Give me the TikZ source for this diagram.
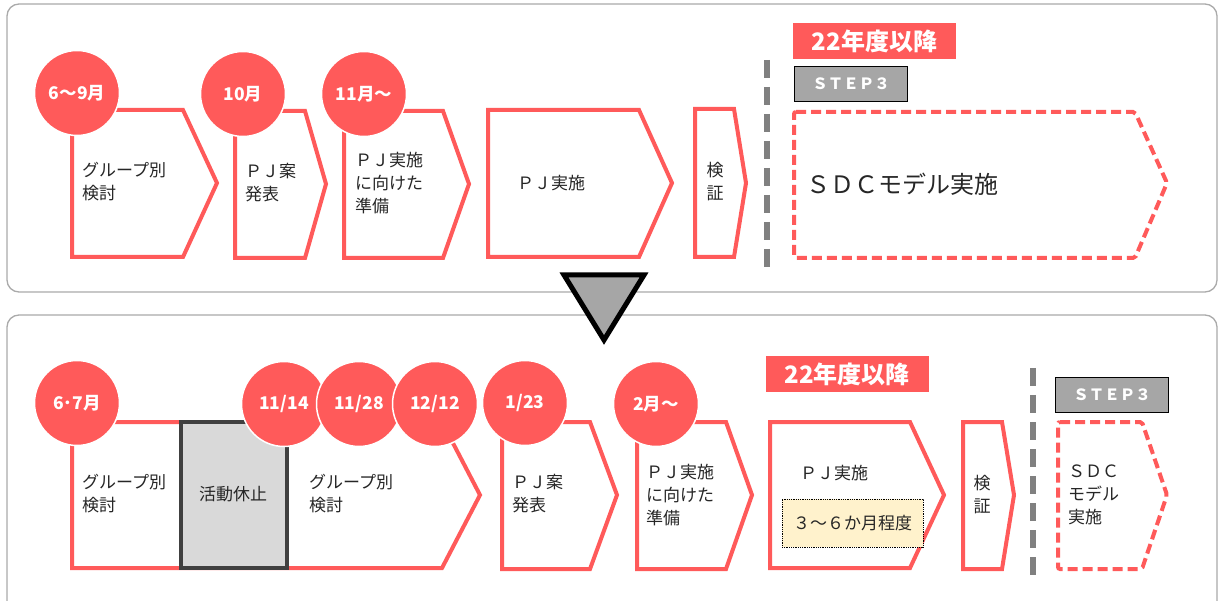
\documentclass[tikz,border=0pt]{standalone}
\usepackage{fontspec}
\setmainfont{Noto Sans CJK JP}
\definecolor{myred}{HTML}{FF5A5A}
\definecolor{panelgray}{HTML}{AAAAAA}
\definecolor{stepgray}{HTML}{A6A6A6}
\definecolor{sepgray}{HTML}{808080}
\definecolor{pausegray}{HTML}{D9D9D9}
\definecolor{pauseborder}{HTML}{404040}
\definecolor{txt}{HTML}{262626}
\definecolor{noteyellow}{HTML}{FFF2CC}
\begin{document}
\begin{tikzpicture}[x=1pt,y=-1pt,
  panel/.style={draw=panelgray, line width=1.3pt, rounded corners=12pt, fill=white},
  stage/.style={draw=myred, line width=4pt, fill=white, line join=miter},
  stagedash/.style={draw=myred, line width=4pt, dash pattern=on 10pt off 5pt, rounded corners=2pt},
  sep/.style={draw=sepgray, line width=6pt, dash pattern=on 18pt off 9pt},
  datec/.style={circle, fill=myred, draw=white, line width=1.5pt, minimum size=85pt, inner sep=0pt,
    text=white, font=\bfseries\fontsize{17.5}{20}\selectfont},
  lbl/.style={anchor=west, align=left, text=txt, inner sep=0pt, font=\fontsize{17}{23}\selectfont},
  clbl/.style={anchor=center, align=center, text=txt, inner sep=0pt, font=\fontsize{17}{23}\selectfont},
  yearbox/.style={fill=myred, text=white, inner sep=0pt, minimum width=163pt, minimum height=36pt,
    font=\bfseries\fontsize{24}{28}\selectfont},
  stepbox/.style={fill=stepgray, draw=black, line width=1pt, text=white, inner sep=0pt,
    minimum width=113pt, minimum height=35pt, font=\bfseries\fontsize{15.5}{18}\selectfont},
  notebox/.style={fill=noteyellow, draw=black, line width=0.8pt, densely dotted, text=txt,
    inner sep=0pt, minimum width=141pt, minimum height=48pt, font=\fontsize{17}{20}\selectfont}
]
\useasboundingbox (0,0) rectangle (1218,601);

% panels
\path[panel] (7,4) rectangle (1217,292);
\path[panel] (7,315) rectangle (1217,640);

% ---------- top row ----------
\path[stage] (72,110) -- (183,110) -- (217,183) -- (183,257) -- (72,257) -- cycle;
\path[stage] (235,111) -- (305,111) -- (326,184) -- (305,258) -- (235,258) -- cycle;
\path[stage] (344,111) -- (443,111) -- (469,184) -- (443,258) -- (344,258) -- cycle;
\path[stage] (488,110) -- (639,110) -- (672,183) -- (639,257) -- (488,257) -- cycle;
\path[stage] (695,109) -- (734,109) -- (746,183) -- (734,257) -- (695,257) -- cycle;
\draw[sep] (767,60) -- (767,268);
\draw[stagedash] (794,112) -- (1135,112) -- (1167,183) -- (1135,258) -- (794,258) -- cycle;

\node[datec] (t1) at (77,93) {6～9月};
\node[datec] (t2) at (243,94) {10月};
\node[datec] (t3) at (364,94) {11月～};

\node[lbl] (tl1) at (82,182) {グループ別\\検討};
\node[lbl] (tl2) at (245,183) {ＰＪ案\\発表};
\node[lbl] (tl3) at (355,183) {ＰＪ実施\\に向けた\\準備};
\node[lbl] (tl4) at (517,183) {ＰＪ実施};
\node[clbl] (tl5) at (715,182) {検\\証};
\node[lbl, font=\fontsize{24}{28}\selectfont] (tl6) at (806,184) {ＳＤＣモデル実施};

\node[yearbox] (ty) at (874.5,41) {22年度以降};
\node[stepbox] (ts) at (851,84) {ＳＴＥＰ３};

% ---------- arrow ----------
\draw[fill=stepgray, line width=5pt, line join=miter] (564,275) -- (644,275) -- (604,340) -- cycle;

% ---------- bottom row ----------
\path[stage] (72,422) -- (442,422) -- (480,495) -- (442,568) -- (72,568) -- cycle;
\draw[fill=pausegray, draw=pauseborder, line width=4pt] (181,422) rectangle (287,568);
\path[stage] (502,422) -- (590,422) -- (617,495) -- (590,569) -- (502,569) -- cycle;
\path[stage] (637,422) -- (726,422) -- (752,495) -- (726,569) -- (637,569) -- cycle;
\path[stage] (770,422) -- (910,422) -- (944,495) -- (910,568) -- (770,568) -- cycle;
\path[stage] (963,422) -- (1002,422) -- (1014,495) -- (1002,569) -- (963,569) -- cycle;
\draw[sep] (1033,368) -- (1033,578);
\draw[stagedash] (1058,422) -- (1142,422) -- (1167,495) -- (1142,569) -- (1058,569) -- cycle;

\node[datec] (b1) at (77,403) {6･7月};
\node[datec] (b2) at (284,404) {11/14};
\node[datec] (b3) at (359,404) {11/28};
\node[datec] (b4) at (435,404) {12/12};
\node[datec] (b5) at (525,403) {1/23};
\node[datec] (b6) at (656,404) {2月～};

\node[lbl] (bl1) at (82,494) {グループ別\\検討};
\node[clbl] (bl2) at (233,494) {活動休止};
\node[lbl] (bl3) at (309,494) {グループ別\\検討};
\node[lbl] (bl4) at (512,494) {ＰＪ案\\発表};
\node[lbl] (bl5) at (646,495) {ＰＪ実施\\に向けた\\準備};
\node[lbl] (bl6) at (800,473) {ＰＪ実施};
\node[notebox] (bn) at (852.5,523) {３～６か月程度};
\node[clbl] (bl7) at (982,495) {検\\証};
\node[lbl] (bl8) at (1068,495) {ＳＤＣ\\モデル\\実施};

\node[yearbox] (by) at (847,374) {22年度以降};
\node[stepbox] (bs) at (1112,395) {ＳＴＥＰ３};
\end{tikzpicture}
\end{document}
